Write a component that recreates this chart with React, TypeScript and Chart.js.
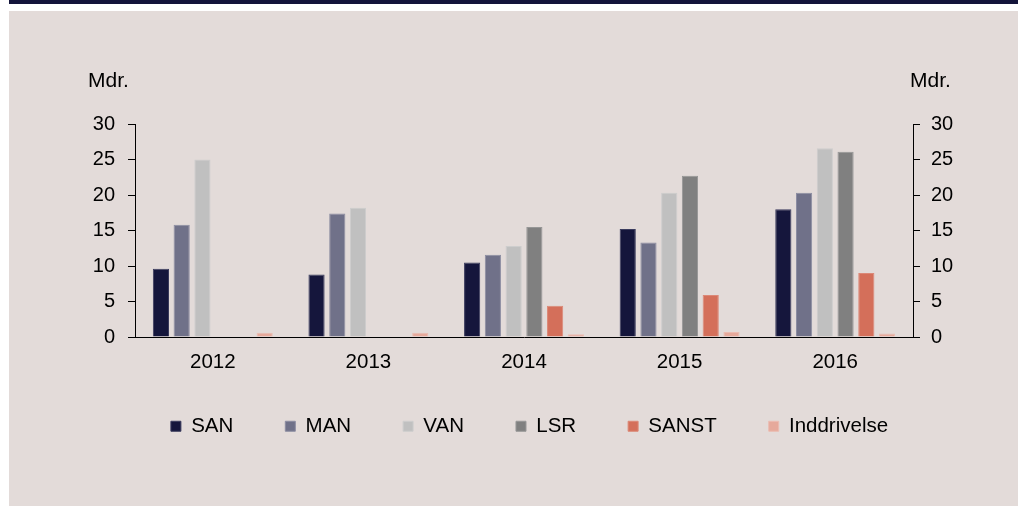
import React, { useEffect, useRef } from 'react';
import { Chart, registerables } from 'chart.js';

Chart.register(...registerables);

const categories = ['2012', '2013', '2014', '2015', '2016'];
const seriesNames = ['SAN', 'MAN', 'VAN', 'LSR', 'SANST', 'Inddrivelse'];
const sanValues = [9.6, 8.8, 10.5, 15.2, 18.0];
const manValues = [15.8, 17.4, 11.6, 13.3, 20.3];
const vanValues = [25.0, 18.2, 12.8, 20.3, 26.6];
const lsrValues = [null, null, 15.5, 22.7, 26.1];
const sanstValues = [null, null, 4.4, 5.9, 9.0];
const inddrivelseValues = [0.6, 0.6, 0.4, 0.7, 0.5];
const axisMin = 0;
const axisMax = 30;
const axisStep = 5;
const unitLabel = 'Mdr.';

const fillColors = ['#15163c', '#707189', '#c0c0c0', '#808080', '#d46f5a', '#e6a99b'];
const edgeColors = ['#3b3c5e', '#8c8da2', '#cdcdcd', '#969696', '#dc8877', '#ebbcb1'];

const FONT = '"Liberation Sans", Arial, Helvetica, sans-serif';

export default function App() {
  const canvasRef = useRef<HTMLCanvasElement | null>(null);

  useEffect(() => {
    const canvas = canvasRef.current;
    if (!canvas) return;
    const allValues = [sanValues, manValues, vanValues, lsrValues, sanstValues, inddrivelseValues];

    const unitPlugin = {
      id: 'unitLabels',
      afterLayout(chart: any) {
        const lg = chart.legend;
        if (lg) {
          lg.left += 16;
          lg.right += 16;
          lg.top -= 13;
          lg.bottom -= 13;
        }
      },
      afterDraw(chart: any) {
        const ctx = chart.ctx;
        ctx.save();
        ctx.fillStyle = '#000';
        ctx.font = `21px ${FONT}`;
        ctx.textBaseline = 'middle';
        ctx.textAlign = 'left';
        ctx.fillText(unitLabel, 79, 70);
        ctx.fillText(unitLabel, 901, 70);
        ctx.restore();
      },
    };

    const chart = new Chart(canvas, {
      type: 'bar',
      data: {
        labels: categories,
        datasets: seriesNames.map((name, i) => ({
          label: name,
          data: allValues[i] as any,
          backgroundColor: fillColors[i],
          borderColor: edgeColors[i],
          borderWidth: 1,
          categoryPercentage: 0.8,
          barPercentage: 0.78,
          yAxisID: 'y',
        })),
      },
      options: {
        responsive: false,
        animation: false,
        devicePixelRatio: 1,
        layout: { padding: { left: 0, right: 0, top: 113, bottom: 46.5 } },
        plugins: {
          title: { display: false },
          tooltip: { enabled: false },
          legend: {
            display: true,
            position: 'bottom',
            labels: {
              boxWidth: 10,
              boxHeight: 10,
              padding: 52,
              color: '#000',
              font: { family: FONT, size: 20.5 },
            },
          },
        },
        scales: {
          x: {
            grid: { display: false, drawTicks: false },
            border: { display: true, color: '#000', width: 1 },
            ticks: { color: '#000', font: { family: FONT, size: 20.5 }, padding: 13 },
            afterFit: (s: any) => { s.height = 40; },
          },
          y: {
            position: 'left',
            min: axisMin,
            max: axisMax,
            grid: { display: true, drawOnChartArea: false, drawTicks: true, tickLength: 7, color: '#000' },
            border: { display: true, color: '#000', width: 1 },
            ticks: { stepSize: axisStep, color: '#000', font: { family: FONT, size: 20 }, padding: 13 },
            afterFit: (s: any) => { s.width = 126; },
          },
          y2: {
            position: 'right',
            min: axisMin,
            max: axisMax,
            display: true,
            grid: { display: true, drawOnChartArea: false, drawTicks: true, tickLength: 7, color: '#000' },
            border: { display: true, color: '#000', width: 1 },
            ticks: { stepSize: axisStep, color: '#000', font: { family: FONT, size: 20 }, padding: 11 },
            afterFit: (s: any) => { s.width = 105; },
          },
        },
      },
      plugins: [unitPlugin],
    });
    return () => chart.destroy();
  }, []);

  return (
    <div style={{ position: 'fixed', left: 9, top: 0, width: 1009, height: 506, background: '#ffffff' }}>
      <div style={{ position: 'absolute', left: 0, top: 0, width: 1009, height: 4, background: '#13143a' }} />
      <div style={{ position: 'absolute', left: 0, top: 11, width: 1009, height: 495, background: '#e3dbd9' }}>
        <canvas ref={canvasRef} width={1009} height={495} style={{ display: 'block', width: 1009, height: 495 }} />
      </div>
    </div>
  );
}
